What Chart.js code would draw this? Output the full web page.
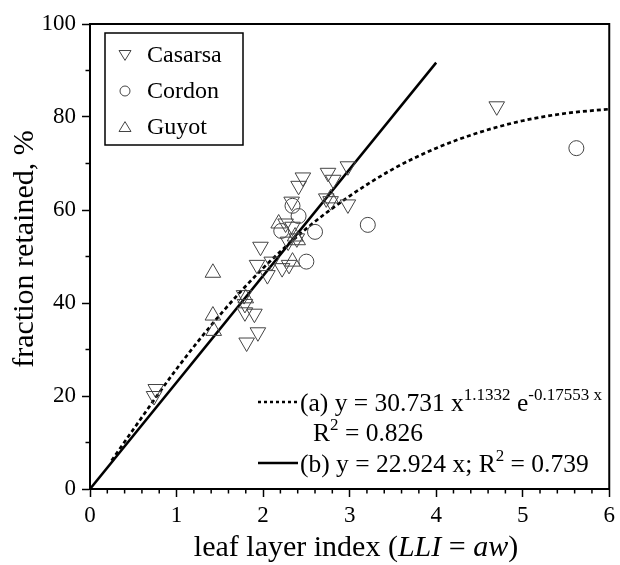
<!DOCTYPE html>
<html>
<head>
<meta charset="utf-8">
<script src="https://cdn.jsdelivr.net/npm/chart.js@4.4.0/dist/chart.umd.min.js"></script>
<style>
  html, body { margin: 0; padding: 0; background: #fff; }
  #wrap { width: 620px; height: 565px; }
</style>
</head>
<body>
<div id="wrap"><canvas id="chart" width="620" height="565"></canvas></div>
<script>
// points
const casarsaX = [0.76, 0.74, 1.78, 1.79, 1.79, 1.81, 1.90, 1.94, 1.97, 1.93, 2.05, 2.10, 2.22, 2.30,
  2.26, 2.34, 2.39, 2.29, 2.33, 2.41, 2.46, 2.75, 2.81, 2.98, 2.73, 2.78, 2.98, 4.70];
const casarsaY = [21.5, 20.0, 41.7, 39.8, 38.0, 31.5, 37.7, 33.7, 52.1, 48.2, 46.0, 48.9, 47.5, 48.2,
  57.1, 56.4, 53.9, 53.2, 61.8, 65.2, 67.0, 68.0, 66.5, 69.4, 62.5, 61.9, 61.2, 82.3];

const cordonX = [2.21, 2.34, 2.41, 2.60, 2.50, 3.21, 5.62];
const cordonY = [55.5, 60.9, 58.7, 55.3, 48.9, 56.8, 73.3];

const guyotX = [1.42, 1.42, 1.43, 1.80, 2.18, 2.34, 2.37, 2.40, 2.78];
const guyotY = [46.5, 37.3, 34.0, 41.0, 57.1, 48.9, 54.3, 53.5, 62.5];

// fit (a)
const fitAX = [0.25, 0.5, 1, 1.5, 2, 2.5, 3, 3.5, 4, 4.5, 5, 5.5, 6];
const fitAY = [6.1, 12.8, 25.8, 37.4, 47.5, 56.0, 63.0, 68.8, 73.3, 76.7, 79.2, 80.8, 81.7];

// fit (b), straight line
const fitBX = [0, 4];
const fitBY = [0, 91.7];

const xTicks = [0, 1, 2, 3, 4, 5, 6];
const yTicks = [0, 20, 40, 60, 80, 100];

const toPts = (xs, ys) => xs.map((x, i) => ({ x: x, y: ys[i] }));

const SERIF = '"Liberation Serif", "DejaVu Serif", serif';
const MARK = '#444';

// box, minor ticks, axis titles, legends
const decor = {
  id: 'decor',
  afterDraw(chart) {
    const ctx = chart.ctx;
    const a = chart.chartArea;
    const xs = chart.scales.x, ys = chart.scales.y;
    ctx.save();
    ctx.strokeStyle = '#000';
    ctx.lineWidth = 2;
    ctx.strokeRect(a.left, a.top, a.right - a.left, a.bottom - a.top);

    // minor ticks
    ctx.lineWidth = 1.5;
    ctx.beginPath();
    for (let i = 1; i < 30; i++) {
      if (i % 5 === 0) continue;
      const px = xs.getPixelForValue(i * 0.2);
      ctx.moveTo(px, a.bottom);
      ctx.lineTo(px, a.bottom + 4.5);
    }
    for (let v = 10; v < 100; v += 20) {
      const py = ys.getPixelForValue(v);
      ctx.moveTo(a.left, py);
      ctx.lineTo(a.left - 4.5, py);
    }
    ctx.stroke();

    ctx.fillStyle = '#000';
    // x title with italic parts
    const parts = [
      ['leaf layer index (', ''],
      ['LLI', 'italic '],
      [' = ', ''],
      ['aw', 'italic '],
      [')', '']
    ];
    const tf = '30px ' + SERIF;
    let total = 0;
    parts.forEach(p => { ctx.font = p[1] + tf; total += ctx.measureText(p[0]).width; });
    let x = 356 - total / 2;
    ctx.textBaseline = 'alphabetic';
    ctx.textAlign = 'left';
    parts.forEach(p => {
      ctx.font = p[1] + tf;
      ctx.fillText(p[0], x, 556);
      x += ctx.measureText(p[0]).width;
    });

    // y title
    ctx.save();
    ctx.translate(25, 249);
    ctx.rotate(-Math.PI / 2);
    ctx.font = tf;
    ctx.textAlign = 'center';
    ctx.textBaseline = 'middle';
    ctx.fillText('fraction retained, %', 0, 0);
    ctx.restore();

    // series legend
    ctx.lineWidth = 1.5;
    ctx.strokeRect(105, 33, 138, 112);
    ctx.lineWidth = 1;
    ctx.strokeStyle = MARK;
    const rows = [['Casarsa', 'down', 55], ['Cordon', 'circle', 91], ['Guyot', 'up', 127]];
    rows.forEach(r => {
      const cx = 125, cy = r[2], s = 6;
      ctx.beginPath();
      if (r[1] === 'circle') {
        ctx.arc(cx, cy, 5, 0, Math.PI * 2);
      } else if (r[1] === 'down') {
        ctx.moveTo(cx - s, cy - s * 0.75);
        ctx.lineTo(cx + s, cy - s * 0.75);
        ctx.lineTo(cx, cy + s * 0.9);
        ctx.closePath();
      } else {
        ctx.moveTo(cx - s, cy + s * 0.75);
        ctx.lineTo(cx + s, cy + s * 0.75);
        ctx.lineTo(cx, cy - s * 0.9);
        ctx.closePath();
      }
      ctx.stroke();
      ctx.font = '24px ' + SERIF;
      ctx.textBaseline = 'middle';
      ctx.fillText(r[0], 147, cy + 1);
    });

    // fit legend
    ctx.strokeStyle = '#000';
    ctx.lineWidth = 2.5;
    ctx.setLineDash([3, 3]);
    ctx.beginPath();
    ctx.moveTo(258, 402); ctx.lineTo(298, 402);
    ctx.stroke();
    ctx.setLineDash([]);
    ctx.lineWidth = 2.5;
    ctx.beginPath();
    ctx.moveTo(258, 463); ctx.lineTo(298, 463);
    ctx.stroke();

    const big = '25.5px ' + SERIF, sup = '17px ' + SERIF;
    const runs = (segs, x0, base) => {
      let xx = x0;
      ctx.textBaseline = 'alphabetic';
      segs.forEach(s => {
        ctx.font = s[1] ? sup : big;
        ctx.fillText(s[0], xx, base - (s[1] ? 11 : 0));
        xx += ctx.measureText(s[0]).width;
      });
    };
    runs([['(a) y = 30.731 x', 0], ['1.1332', 1], [' e', 0], ['-0.17553 x', 1]], 300, 411);
    runs([['R', 0], ['2', 1], [' = 0.826', 0]], 313, 441);
    runs([['(b) y = 22.924 x; R', 0], ['2', 1], [' = 0.739', 0]], 300, 472);
    ctx.restore();
  }
};

const markerSet = (label, xs, ys, style, rot, r) => ({
  label: label,
  data: toPts(xs, ys),
  pointStyle: style,
  rotation: rot,
  pointRadius: r,
  pointBorderColor: MARK,
  pointBackgroundColor: 'rgba(0,0,0,0)',
  pointBorderWidth: 1,
  showLine: false
});

new Chart(document.getElementById('chart'), {
  type: 'scatter',
  data: {
    datasets: [
      markerSet('Casarsa', casarsaX, casarsaY, 'triangle', 180, 9),
      markerSet('Cordon', cordonX, cordonY, 'circle', 0, 7.5),
      markerSet('Guyot', guyotX, guyotY, 'triangle', 0, 9),
      {
        label: 'fit a',
        data: toPts(fitAX, fitAY),
        showLine: true,
        borderColor: '#000',
        borderWidth: 2.7,
        borderDash: [4, 3],
        pointRadius: 0,
        cubicInterpolationMode: 'monotone'
      },
      {
        label: 'fit b',
        data: toPts(fitBX, fitBY),
        showLine: true,
        borderColor: '#000',
        borderWidth: 2.5,
        pointRadius: 0
      }
    ]
  },
  options: {
    responsive: false,
    animation: false,
    layout: { padding: { left: 0, right: 8, top: 24, bottom: 0 } },
    plugins: {
      legend: { display: false },
      tooltip: { enabled: false }
    },
    scales: {
      x: {
        type: 'linear',
        min: 0,
        max: 6,
        afterFit: s => { s.height = 76; },
        afterBuildTicks: s => { s.ticks = xTicks.map(v => ({ value: v })); },
        ticks: {
          color: '#000',
          font: { family: SERIF, size: 23 },
          padding: 5,
          maxRotation: 0
        },
        grid: { drawOnChartArea: false, drawTicks: true, tickLength: 8, tickColor: '#000', tickWidth: 1.5 },
        border: { display: true, color: '#000', width: 2 }
      },
      y: {
        type: 'linear',
        min: 0,
        max: 100,
        afterFit: s => { s.width = 90; },
        afterBuildTicks: s => { s.ticks = yTicks.map(v => ({ value: v })); },
        ticks: {
          color: '#000',
          font: { family: SERIF, size: 23 },
          padding: 6
        },
        grid: { drawOnChartArea: false, drawTicks: true, tickLength: 8, tickColor: '#000', tickWidth: 1.5 },
        border: { display: true, color: '#000', width: 2 }
      }
    }
  },
  plugins: [decor]
});
</script>
</body>
</html>
